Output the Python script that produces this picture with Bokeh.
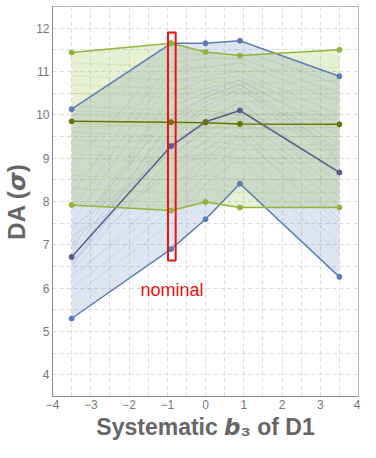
import numpy as np
from bokeh.plotting import figure
from bokeh.models import FixedTicker, Range1d
from bokeh.core.properties import value
from bokeh.embed import file_html
from bokeh.resources import INLINE

# ---------------- data ----------------
b3 = [-3.5, -0.9, 0.0, 0.9, 3.5]

blue_max = [10.13, 11.65, 11.65, 11.71, 10.89]
blue_min = [5.30, 6.90, 7.59, 8.41, 6.26]
blue_nominal = [6.72, 9.28, 9.84, 10.10, 8.67]

green_max = [11.44, 11.65, 11.45, 11.37, 11.50]
green_min = [7.92, 7.79, 7.99, 7.86, 7.86]
green_nominal = [9.85, 9.83, 9.82, 9.79, 9.78]

blue_samples = [
    [6.4, 9.0, 9.7, 10.2, 8.2],
    [6.5, 9.5, 10.1, 10.5, 8.9],
    [6.6, 8.8, 9.4, 9.9, 7.9],
    [6.8, 9.8, 10.3, 10.6, 9.2],
    [6.9, 10.2, 10.5, 10.8, 9.5],
    [7.0, 9.3, 9.9, 10.3, 8.6],
    [7.1, 10.5, 10.8, 10.9, 9.8],
    [7.2, 8.6, 9.2, 9.7, 7.6],
    [7.3, 10.0, 10.4, 10.7, 9.3],
    [7.5, 10.8, 10.9, 11.0, 10.0],
    [6.2, 8.3, 9.0, 9.6, 7.3],
    [6.0, 7.8, 8.6, 9.3, 7.0],
    [7.8, 11.0, 11.1, 11.2, 10.3],
    [8.2, 11.2, 11.3, 11.3, 10.5],
    [6.7, 9.6, 10.2, 10.6, 9.0],
    [6.3, 8.0, 8.9, 9.5, 7.5],
    [7.0, 10.4, 10.6, 10.8, 9.6],
    [6.6, 9.2, 9.8, 10.3, 8.4],
    [5.8, 7.5, 8.4, 9.0, 6.8],
    [8.8, 11.4, 11.4, 11.5, 10.7],
    [6.5, 9.9, 10.4, 10.7, 9.1],
    [7.4, 9.1, 9.6, 10.0, 8.1],
]

green_samples = [
    [10.9, 10.8, 10.8, 10.7, 10.8],
    [10.5, 10.4, 10.4, 10.3, 10.4],
    [10.2, 10.1, 10.1, 10.0, 10.1],
    [9.6, 9.5, 9.6, 9.5, 9.5],
    [9.3, 9.2, 9.3, 9.2, 9.2],
    [9.0, 8.9, 9.0, 8.9, 8.9],
    [8.6, 8.5, 8.6, 8.5, 8.5],
    [10.0, 9.9, 10.0, 9.9, 9.9],
    [9.4, 9.4, 9.4, 9.3, 9.3],
    [11.2, 11.1, 11.1, 11.0, 11.1],
    [9.8, 9.7, 9.7, 9.7, 9.6],
    [8.3, 8.2, 8.3, 8.2, 8.2],
    [10.7, 10.6, 10.6, 10.5, 10.6],
    [9.1, 9.0, 9.1, 9.0, 9.0],
    [9.7, 9.8, 9.7, 9.7, 9.7],
    [10.1, 10.0, 10.1, 10.0, 10.0],
]

x_ticks = [-4, -3, -2, -1, 0, 1, 2, 3, 4]
y_ticks = [4, 5, 6, 7, 8, 9, 10, 11, 12]

nominal_box_x = [-0.98, -0.78]
nominal_box_y = [6.64, 11.90]
nominal_text_pos = [-1.70, 5.95]

# ---------------- figure ----------------
BLUE = "#5a7db5"
PURPLE = "#5f5890"
GREEN = "#93b43c"
OLIVE = "#6a7405"
GRAY_TXT = "#777777"
LABEL_TXT = "#666666"
FONT = "Liberation Sans"

p = figure(width=360, height=442, output_backend="svg", toolbar_location=None,
           x_range=Range1d(-4, 4), y_range=Range1d(3.5, 12.5),
           min_border_left=46, min_border_right=2, min_border_top=6,
           min_border_bottom=40)
p.background_fill_color = "white"
p.border_fill_color = "white"
p.outline_line_color = "#b8b8b8"
p.outline_line_width = 1

for g, rng in ((p.xgrid, np.arange(-4, 4.01, 0.5)), (p.ygrid, np.arange(3.5, 12.51, 0.5))):
    g.ticker = FixedTicker(ticks=list(rng))
    g.grid_line_color = "#dcdcdc"
    g.grid_line_dash = "4 3"
    g.grid_line_width = 1

p.xaxis.ticker = FixedTicker(ticks=x_ticks)
p.yaxis.ticker = FixedTicker(ticks=y_ticks)
p.xaxis.major_label_overrides = {t: (str(t).replace("-", "\u2212")) for t in x_ticks}
for ax in (p.xaxis, p.yaxis):
    ax.axis_line_color = "#8c8c8c"
    ax.major_tick_line_color = None
    ax.minor_tick_line_color = None
    ax.major_tick_out = 0
    ax.major_tick_in = 0
    ax.minor_tick_out = 0
    ax.minor_tick_in = 0
    ax.major_label_text_color = GRAY_TXT
    ax.major_label_text_font = FONT
    ax.major_label_text_font_size = "12px"
    ax.axis_label_text_font = FONT
    ax.axis_label_text_font_style = "bold"
    ax.axis_label_text_color = LABEL_TXT
p.xaxis.major_label_standoff = 3
p.yaxis.major_label_standoff = 3

p.xaxis.axis_label = "Systematic \U0001D657\u2083 of D1"
p.xaxis.axis_label_text_font_size = "23px"
p.xaxis.axis_label_standoff = 2
p.yaxis.axis_label = "DA (\U0001D7BC)"
p.yaxis.axis_label_text_font_size = "24px"
p.yaxis.axis_label_standoff = 3

# fills
p.varea(x=b3, y1=blue_min, y2=blue_max, fill_color=BLUE, fill_alpha=0.2)
p.varea(x=b3, y1=green_min, y2=green_max, fill_color=GREEN, fill_alpha=0.22)

# sample lines
p.multi_line(xs=[b3] * len(blue_samples), ys=blue_samples, line_color=BLUE,
             line_alpha=0.25, line_width=0.6)
p.multi_line(xs=[b3] * len(green_samples), ys=green_samples, line_color=GREEN,
             line_alpha=0.3, line_width=0.6)

# main lines
for ys, col in ((blue_max, BLUE), (blue_min, BLUE), (blue_nominal, PURPLE),
                (green_max, GREEN), (green_min, GREEN), (green_nominal, OLIVE)):
    p.line(b3, ys, line_color=col, line_width=1.5)
    p.scatter(b3, ys, size=5, fill_color=col, line_color=col)

# nominal box and text
p.quad(left=[nominal_box_x[0]], right=[nominal_box_x[1]],
       bottom=[nominal_box_y[0]], top=[nominal_box_y[1]],
       fill_color=None, line_color="#ee1111", line_width=2)
p.text(x=[nominal_text_pos[0]], y=[nominal_text_pos[1]], text=["nominal"],
       text_color="#ee1111", text_font=value(FONT), text_font_size="18px",
       text_baseline="alphabetic", text_align="left")

open("out.html", "w").write(file_html(p, INLINE))
